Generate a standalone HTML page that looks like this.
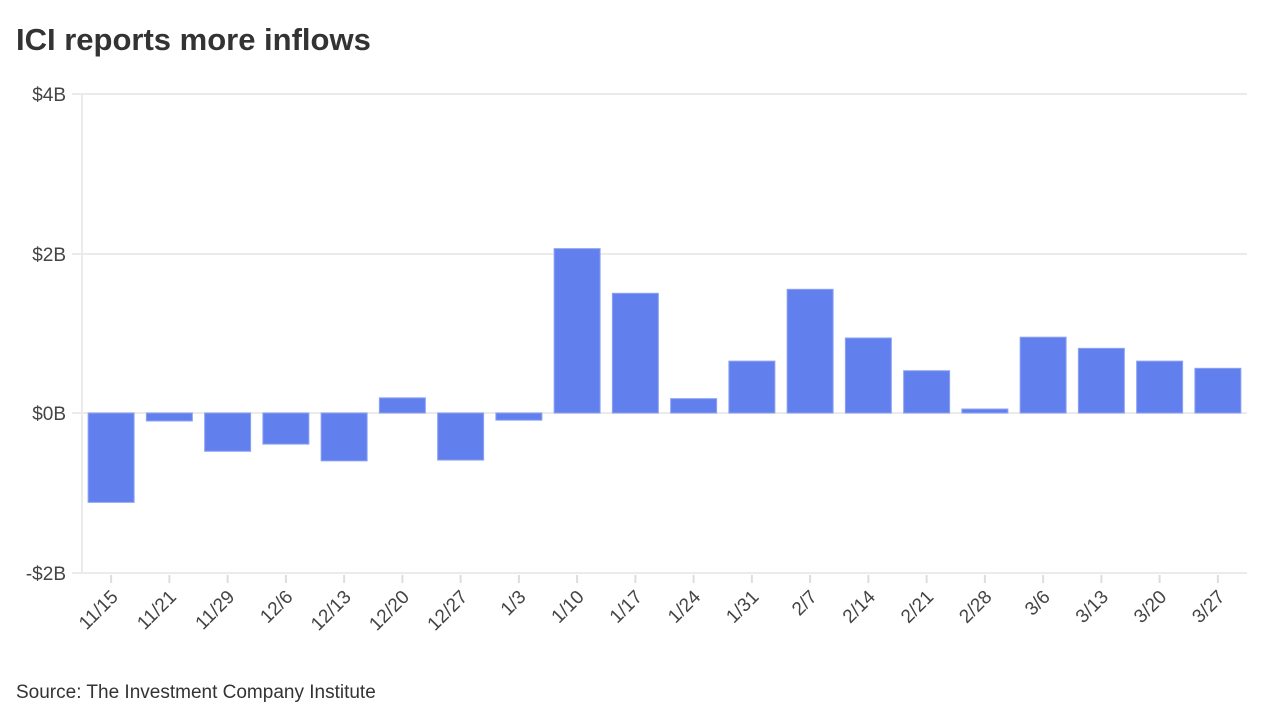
<!DOCTYPE html>
<html><head><meta charset="utf-8"><style>
body{margin:0;background:#fff;width:1280px;height:720px;overflow:hidden;font-family:"Liberation Sans",sans-serif}
</style></head><body>
<svg width="1280" height="720" xmlns="http://www.w3.org/2000/svg" font-family="Liberation Sans, sans-serif">
<text x="16" y="50" font-size="31" font-weight="bold" fill="#333">ICI reports more inflows</text>
<g stroke="#ebebeb" stroke-width="2">
<line x1="72" y1="94" x2="1247" y2="94"/>
<line x1="72" y1="254" x2="1247" y2="254"/>
<line x1="72" y1="413" x2="1247" y2="413"/>
<line x1="72" y1="573" x2="1247" y2="573"/>
<line x1="82" y1="94" x2="82" y2="573"/>
</g>
<g font-size="19" fill="#444" text-anchor="end">
<text x="66" y="101">$4B</text>
<text x="66" y="261">$2B</text>
<text x="66" y="420">$0B</text>
<text x="66" y="580">-$2B</text>
</g>
<g id="bars" fill="#6180ee" stroke="#8ea2f3" stroke-width="1"></g>
<g id="labels" font-size="19" fill="#444" text-anchor="end"></g>
<g id="ticks" stroke="#ddd" stroke-width="2"></g>
<text x="16" y="698" font-size="19" fill="#333">Source: The Investment Company Institute</text>
</svg>
<script>
var v=[-1.12,-0.1,-0.48,-0.39,-0.6,0.19,-0.59,-0.09,2.06,1.5,0.18,0.65,1.55,0.94,0.53,0.05,0.95,0.81,0.65,0.56];
var l=["11/15","11/21","11/29","12/6","12/13","12/20","12/27","1/3","1/10","1/17","1/24","1/31","2/7","2/14","2/21","2/28","3/6","3/13","3/20","3/27"];
var ns="http://www.w3.org/2000/svg",b=document.getElementById("bars"),t=document.getElementById("labels"),k=document.getElementById("ticks");
for(var i=0;i<20;i++){var c=82+58.25*(i+0.5);var y0=413,y1=413-v[i]*79.8;
var r=document.createElementNS(ns,"rect");r.setAttribute("x",c-23);r.setAttribute("width",46);r.setAttribute("y",Math.min(y0,y1));r.setAttribute("height",Math.max(1,Math.abs(y1-y0)));b.appendChild(r);
var q=document.createElementNS(ns,"line");q.setAttribute("x1",c);q.setAttribute("x2",c);q.setAttribute("y1",575);q.setAttribute("y2",583);k.appendChild(q);
var s=document.createElementNS(ns,"text");s.setAttribute("transform","translate("+(c+8)+",598) rotate(-45)");s.textContent=l[i];t.appendChild(s);}
</script>
</body></html>
